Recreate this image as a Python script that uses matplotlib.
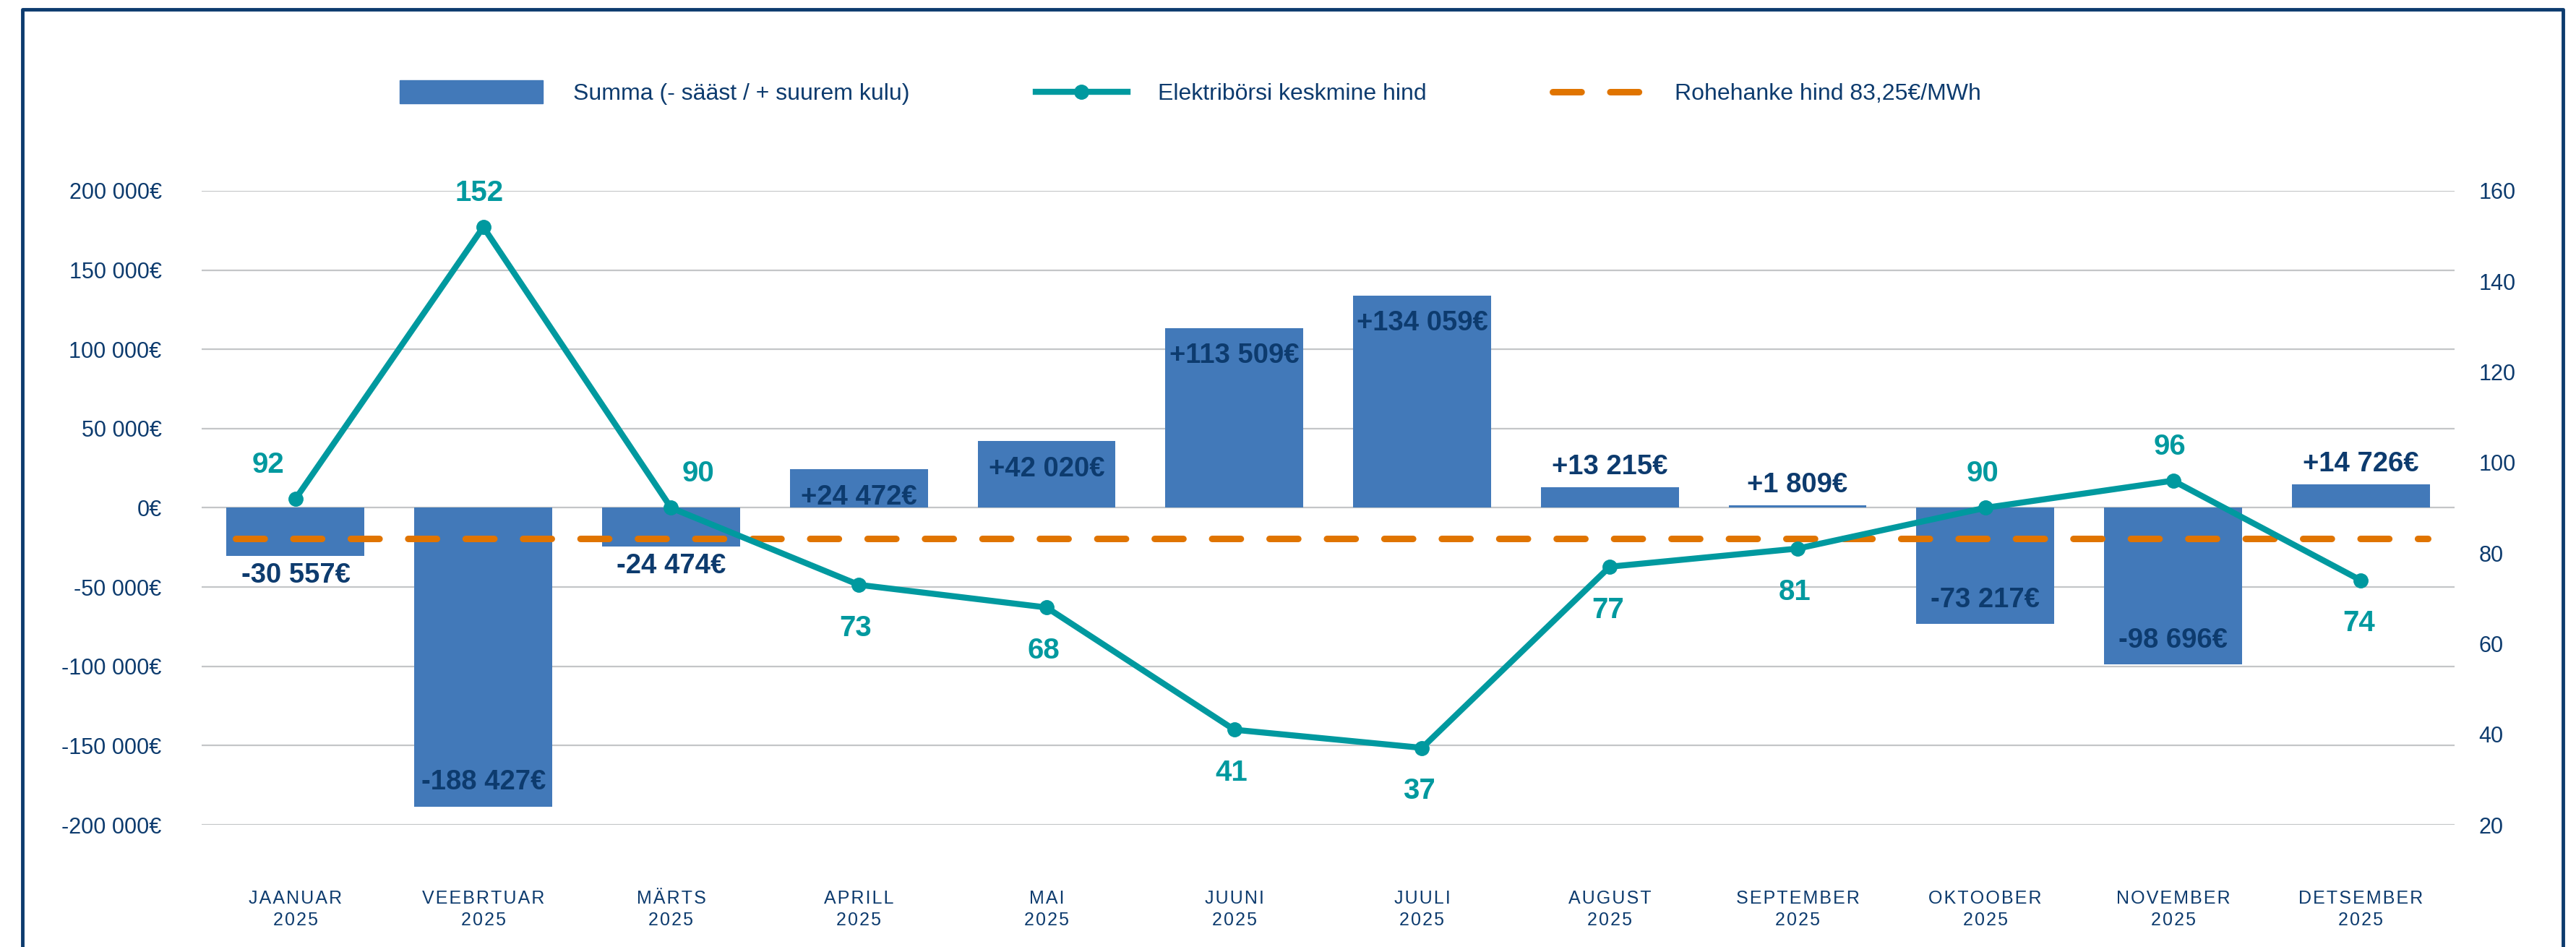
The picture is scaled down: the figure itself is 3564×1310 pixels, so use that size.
import matplotlib
matplotlib.use("Agg")
import matplotlib.pyplot as plt
from matplotlib.lines import Line2D
from matplotlib.patches import Rectangle
from matplotlib.legend_handler import HandlerPatch
from matplotlib.ticker import FuncFormatter

plt.rcParams['font.family'] = ['Liberation Sans', 'DejaVu Sans']

################################   ANDMED  ###########################################

kuud = ['JAANUAR', 'VEEBRTUAR', 'MÄRTS', 'APRILL', 'MAI', 'JUUNI',
        'JUULI', 'AUGUST', 'SEPTEMBER', 'OKTOOBER', 'NOVEMBER', 'DETSEMBER']
aasta = '2025'

summa = [-30557, -188427, -24474, 24472, 42020, 113509,
         134059, 13215, 1809, -73217, -98696, 14726]
borsi_hind = [92, 152, 90, 73, 68, 41, 37, 77, 81, 90, 96, 74]
rohehanke_hind = 83.25

vasak_tikid = list(range(-200000, 200001, 50000))
parem_tikid = list(range(20, 161, 20))

nimed = ['Summa (- sääst / + suurem kulu)',
         'Elektribörsi keskmine hind',
         'Rohehanke hind 83,25€/MWh']

################################   VÄRVID  ###########################################

SININE = '#4279B9'
TEAL = '#00999F'
ORANZ = '#E07400'
NAVY = '#0D3B6E'
RUUDU = '#C4C6C8'

# 92 ja märtsi 90 on pisut kõrvale nihutatud (punkte), et joonega mitte kattuda
hind_nihe_x = [-27, -4, 27, -3, -3, -3, -3, -2, -3, -3, -3, -2]


def harva(tekst):
    # hõre tähevahe nagu originaalis
    return '\u200a'.join(tekst)


def euro(v, pos=None):
    return f"{int(v):,}".replace(",", " ") + "€"


def laiem_kast(legend, orig_handle, xdescent, ydescent, width, height, fontsize):
    korgus = height * 1.45
    laius = width * 1.55
    return Rectangle((width - laius - xdescent, -ydescent + (height - korgus) / 2), laius, korgus)


################################   JOONIS  ###########################################

fig = plt.figure(figsize=(35.64, 13.10), dpi=100)
ax = fig.add_axes([0.0783, 0.129, 0.8746, 0.6695])
ax2 = ax.twinx()

x = list(range(len(kuud)))

ax.bar(x, summa, width=0.735, color=SININE, zorder=2)
ax.set_xlim(-0.5, len(kuud) - 0.5)
ax.set_ylim(-200000, 200000)
ax.set_yticks(vasak_tikid)
ax.yaxis.set_major_formatter(FuncFormatter(euro))
ax.grid(axis='y', color=RUUDU, linewidth=1.6)
ax.set_axisbelow(True)
ax.set_xticks(x)
ax.set_xticklabels([harva(k) + "\n" + harva(aasta) for k in kuud], linespacing=1.3)
ax.tick_params(axis='y', length=0, pad=40, labelsize=22, labelcolor=NAVY)
ax.tick_params(axis='x', length=0, pad=65, labelsize=18, labelcolor=NAVY)

for s in ax.spines.values():
    s.set_visible(False)
for s in ax2.spines.values():
    s.set_visible(False)

# summa sildid
for i, v in enumerate(summa):
    tekst = f"{v:+,}".replace(",", " ") + "€"
    sees = v > 20000 or v < -50000
    if v >= 0:
        dy = -28 if sees else 20
    else:
        dy = 24 if sees else -19
    ax.annotate(tekst, (i, v), xytext=(0, dy), textcoords='offset points',
                ha='center', va='center', fontsize=27.5, fontweight='bold',
                color=NAVY, zorder=5)

# parem telg: hinnad
ax2.set_ylim(20, 160)
ax2.set_yticks(parem_tikid)
ax2.tick_params(axis='y', length=0, pad=24, labelsize=22, labelcolor=NAVY)

ax2.axhline(rohehanke_hind, xmin=0.015, xmax=0.988, color=ORANZ, lw=6.5,
            dashes=(4.4, 4.4), dash_capstyle='round', zorder=3)
ax2.plot(x, borsi_hind, color=TEAL, lw=6, marker='o', ms=14, zorder=4)

for i, v in enumerate(borsi_hind):
    dy = 34 if v >= 85 else -43
    ax2.annotate(str(v), (i, v), xytext=(hind_nihe_x[i], dy), textcoords='offset points',
                 ha='center', va='center', fontsize=29, fontweight='bold', color=TEAL)

# legend
kast = Rectangle((0, 0), 1, 1, color=SININE)
joon = Line2D([], [], color=TEAL, lw=6, marker='o', ms=14)
kriips = Line2D([], [], color=ORANZ, lw=6.5, dashes=(4.4, 4.4), dash_capstyle='round')
fig.legend([kast, joon, kriips], nimed, loc='center left', bbox_to_anchor=(0.1705, 0.9008),
           ncol=3, frameon=False, fontsize=23, handlelength=4, handletextpad=1.3,
           columnspacing=5.45, borderpad=0, labelcolor=NAVY,
           handler_map={Rectangle: HandlerPatch(patch_func=laiem_kast)})

# raam
vx, px, ylemine = 31 / 3564, 3546 / 3564, 1 - 12.5 / 1310
fig.add_artist(Line2D([vx, vx, px, px], [0, ylemine, ylemine, 0],
                      transform=fig.transFigure, color=NAVY, lw=3.5))

fig.savefig('out.png', dpi=100)
